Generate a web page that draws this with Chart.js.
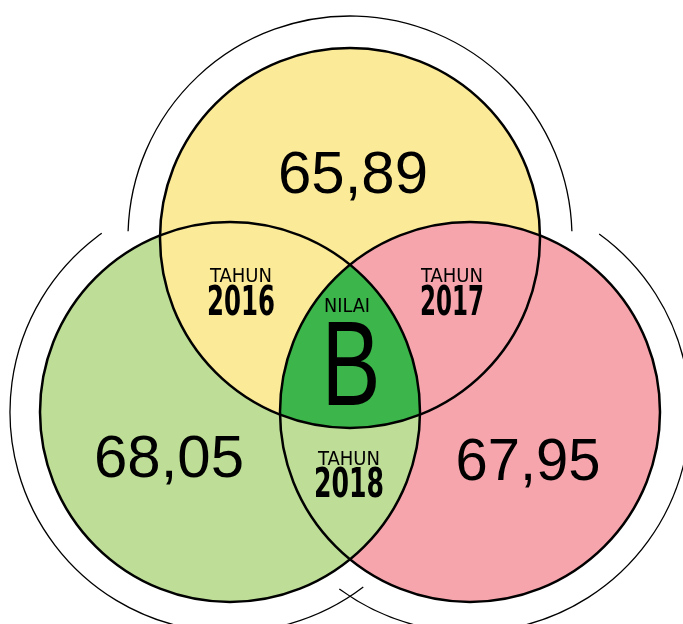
<!DOCTYPE html>
<html>
<head>
<meta charset="utf-8">
<script src="https://cdn.jsdelivr.net/npm/chart.js@4/dist/chart.umd.min.js"></script>
<style>
  html, body { margin: 0; padding: 0; background: #fff; }
  #wrap { width: 683px; height: 624px; }
</style>
</head>
<body>
<div id="wrap"><canvas id="venn" width="683" height="624"></canvas></div>
<script>
// data: one circle per set, values shown inside, years on the overlaps
const setValues = ['65,89', '67,95', '68,05'];
const setX = [350, 470, 230];
const setY = [238, 412, 412];
const setR = [190, 190, 190];
const yearLabels = ['2016', '2017', '2018'];
const yearPrefix = 'TAHUN';
const gradeTitle = 'NILAI';
const gradeValue = 'B';

const fillColors = ['#fbea98', '#f6a5ac', '#bedd97'];
const coreColor = '#3cb54a';

// where the labels sit (data units, same as the scales)
const valuePos = [[353, 193], [528, 480], [169, 477]];
const yearPos = [[241, 282, 315], [452, 282, 315], [349, 465, 497]];

const condensed = "'Liberation Sans Narrow', 'DejaVu Sans Condensed', 'Liberation Sans', sans-serif";
const regular = "'Liberation Sans', Arial, sans-serif";

const px = (chart, v) => chart.scales.x.getPixelForValue(v);
const py = (chart, v) => chart.scales.y.getPixelForValue(v);
const pr = (chart, r) => chart.scales.x.getPixelForValue(r) - chart.scales.x.getPixelForValue(0);

function circlePath(ctx, chart, i, extra) {
	ctx.beginPath();
	ctx.arc(px(chart, setX[i]), py(chart, setY[i]), pr(chart, setR[i] + (extra || 0)), 0, Math.PI * 2);
}

function fitText(ctx, text, x, y, font, width) {
	ctx.save();
	ctx.font = font;
	const w = ctx.measureText(text).width;
	ctx.translate(x, y);
	ctx.scale(width / w, 1);
	ctx.textAlign = 'center';
	ctx.textBaseline = 'alphabetic';
	ctx.fillStyle = '#000';
	ctx.fillText(text, 0, 0);
	ctx.restore();
}

const vennPlugin = {
	id: 'venn',
	beforeDatasetsDraw(chart) {
		const ctx = chart.ctx;
		ctx.save();
		// full circles: green, red, then yellow on top
		[2, 1, 0].forEach(i => {
			circlePath(ctx, chart, i);
			ctx.fillStyle = fillColors[i];
			ctx.fill();
		});
		// yellow & red overlap is red
		ctx.save();
		circlePath(ctx, chart, 0); ctx.clip();
		circlePath(ctx, chart, 1); ctx.fillStyle = fillColors[1]; ctx.fill();
		ctx.restore();
		// red & green overlap is green
		ctx.save();
		circlePath(ctx, chart, 1); ctx.clip();
		circlePath(ctx, chart, 2); ctx.fillStyle = fillColors[2]; ctx.fill();
		ctx.restore();
		// all three
		ctx.save();
		circlePath(ctx, chart, 0); ctx.clip();
		circlePath(ctx, chart, 1); ctx.clip();
		circlePath(ctx, chart, 2); ctx.fillStyle = coreColor; ctx.fill();
		ctx.restore();

		// thin outer arcs
		const arcs = [[0, 32, Math.PI + 0.03, 2 * Math.PI - 0.03], [1, 30, 5.34, 8.49], [2, 30, 0.92, 4.09]];
		ctx.strokeStyle = '#000';
		ctx.lineWidth = 1.3;
		arcs.forEach(([i, extra, a0, a1]) => {
			ctx.beginPath();
			ctx.arc(px(chart, setX[i]), py(chart, setY[i]), pr(chart, setR[i] + extra), a0, a1);
			ctx.stroke();
		});
		ctx.restore();
	},
	afterDatasetsDraw(chart) {
		const ctx = chart.ctx;
		const valueWidths = [150, 145, 150];
		setValues.forEach((v, i) => {
			fitText(ctx, v, px(chart, valuePos[i][0]), py(chart, valuePos[i][1]), '60px ' + regular, valueWidths[i]);
		});
		const yearWidths = [68, 64, 70];
		yearLabels.forEach((y, i) => {
			const [x, b1, b2] = yearPos[i];
			fitText(ctx, yearPrefix, px(chart, x), py(chart, b1), '19px ' + condensed, 62);
			fitText(ctx, y, px(chart, x), py(chart, b2), 'bold 40px ' + condensed, yearWidths[i]);
		});
		fitText(ctx, gradeTitle, px(chart, 347), py(chart, 312), '19px ' + condensed, 46);
		fitText(ctx, gradeValue, px(chart, 351), py(chart, 405), '121px ' + regular, 59);
	}
};

new Chart('venn', {
	type: 'scatter',
	data: {
		labels: setValues,
		datasets: [{
			data: setX.map((x, i) => ({ x: x, y: setY[i] })),
			pointRadius: c => pr(c.chart, setR[c.dataIndex]),
			pointHoverRadius: c => pr(c.chart, setR[c.dataIndex]),
			pointBackgroundColor: 'rgba(0,0,0,0)',
			pointBorderColor: '#000',
			pointBorderWidth: 2.5,
			clip: false,
		}],
	},
	options: {
		responsive: false,
		animation: false,
		events: [],
		layout: { padding: 0 },
		scales: {
			x: { type: 'linear', min: 0, max: 683, display: false },
			y: { type: 'linear', min: 0, max: 624, reverse: true, display: false },
		},
		plugins: {
			legend: { display: false },
			tooltip: { enabled: false },
		},
	},
	plugins: [vennPlugin],
});
</script>
</body>
</html>
